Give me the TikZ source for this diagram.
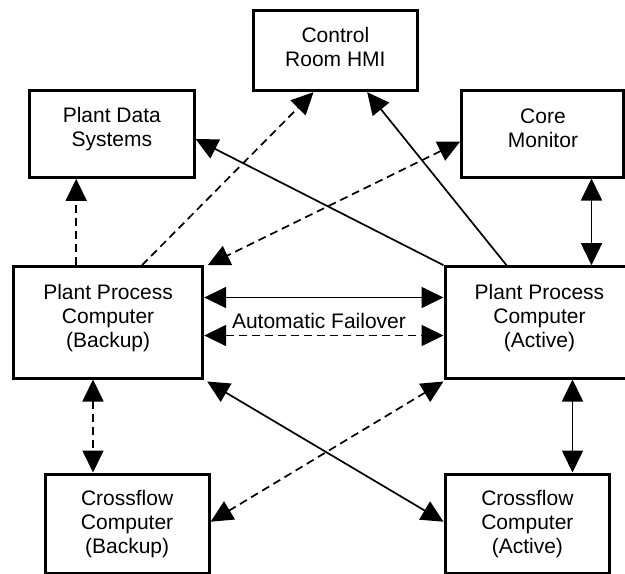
\documentclass[tikz,border=0pt]{standalone}
\usepackage{fontspec}
\setmainfont{Liberation Sans}
\usetikzlibrary{arrows.meta,calc}
\begin{document}
\begin{tikzpicture}[x=1pt,y=-1pt,
  box/.style={draw, line width=3pt, inner sep=0pt},
  txt/.style={align=center, inner sep=0pt, font=\fontsize{21}{24.3}\selectfont},
  conn/.style={line width=1.7pt, arrows={-Triangle[length=22pt,width=21pt]}},
  dconn/.style={line width=1.7pt, arrows={Triangle[length=22pt,width=21pt]-Triangle[length=22pt,width=21pt]}},
  dsh/.style={dash pattern=on 8pt off 5pt}]
\useasboundingbox (0,0) rectangle (625,574);
\clip (0,0) rectangle (625,574);
% boxes
\node[box, minimum width=163.8pt, minimum height=80.4pt] (cr) at (335.4,50.5) {};
\node[txt] (crt) at (335.4,46.9) {Control\\Room HMI};
\node[box, minimum width=164.6pt, minimum height=87.3pt] (pds) at (111.8,133.65) {};
\node[txt] (pdst) at (111.8,129.1) {Plant Data\\Systems};
\node[box, minimum width=161.6pt, minimum height=87pt] (cm) at (542.5,133.5) {};
\node[txt] (cmt) at (543,128.1) {Core\\Monitor};
\node[box, minimum width=189.2pt, minimum height=111.3pt] (ppcb) at (108.1,322.35) {};
\node[txt] (ppcbt) at (108.1,318) {Plant Process\\Computer\\(Backup)};
\node[box, minimum width=189pt, minimum height=111.3pt] (ppca) at (539.5,322.35) {};
\node[txt] (ppcat) at (539.5,318) {Plant Process\\Computer\\(Active)};
\node[box, minimum width=164.2pt, minimum height=99pt] (cfb) at (127.1,523.5) {};
\node[txt] (cfbt) at (127.1,524.2) {Crossflow\\Computer\\(Backup)};
\node[box, minimum width=164.8pt, minimum height=99pt] (cfa) at (527.4,523.5) {};
\node[txt] (cfat) at (527.4,524.2) {Crossflow\\Computer\\(Active)};
% connectors
\draw[conn, dsh] ([xshift=64.2pt]ppcb.north west) coordinate (c1) -- (c1 |- pds.south);
\draw[conn, dsh] ([xshift=130pt]ppcb.north west) -- ([xshift=61.5pt]cr.south west);
\draw[conn] (ppca.north west) -- ([yshift=-5.35pt]pds.east);
\draw[conn] ([xshift=63pt]ppca.north west) -- ([xshift=115.2pt]cr.south west);
\draw[dconn, dsh] ([yshift=-8pt]cm.west) -- ([xshift=3.5pt]ppcb.north east);
\draw[dconn] ([xshift=-33.3pt]cm.south east) coordinate (c6) -- (c6 |- ppca.north);
\draw[dconn] ([yshift=-32.3pt]ppcb.north east) coordinate (c7) -- (c7 -| ppca.west);
\draw[dconn, dsh] ([yshift=-70.3pt]ppcb.north east) coordinate (c8) -- (c8 -| ppca.west);
\node[txt, anchor=base] (af) at (319,328.3) {Automatic Failover};
\draw[dconn, dsh] ([xshift=81pt]ppcb.south west) coordinate (c9) -- (c9 |- cfb.north);
\draw[dconn] ([xshift=3pt,yshift=-2pt]ppcb.south east) -- ([yshift=1.8pt]cfa.west);
\draw[dconn, dsh] ([yshift=-2pt]ppca.south west) -- ([yshift=1.8pt]cfb.east);
\draw[dconn] ([xshift=129pt]ppca.south west) coordinate (c11) -- (c11 |- cfa.north);
\end{tikzpicture}
\end{document}
